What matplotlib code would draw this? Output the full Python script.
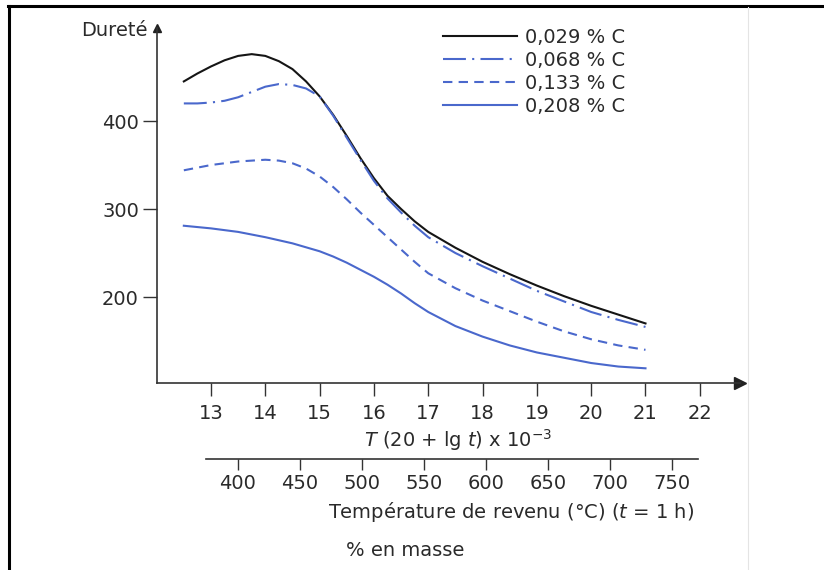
import matplotlib.pyplot as plt
from matplotlib.lines import Line2D

plt.rcParams['font.family'] = ['DejaVu Sans']

# Larson-Miller parameter T(20 + lg t) x 10^-3 and hardness for each carbon content
lm_029 = [12.5, 12.75, 13.0, 13.25, 13.5, 13.75, 14.0, 14.25, 14.5, 14.75, 15.0, 15.25, 15.5, 15.75,
          16.0, 16.25, 16.5, 16.75, 17.0, 17.5, 18.0, 18.5, 19.0, 19.5, 20.0, 20.5, 21.0]
hv_029 = [445, 454, 462, 469, 474, 476, 474, 468, 459, 445, 428, 407, 383, 358,
          335, 315, 300, 286, 274, 256, 240, 226, 213, 201, 190, 180, 170]

lm_068 = [12.5, 12.75, 13.0, 13.25, 13.5, 13.75, 14.0, 14.25, 14.5, 14.75, 15.0, 15.25, 15.5, 15.75,
          16.0, 16.25, 16.5, 16.75, 17.0, 17.5, 18.0, 18.5, 19.0, 19.5, 20.0, 20.5, 21.0]
hv_068 = [420, 420, 421, 423, 427, 433, 439, 442, 441, 437, 428, 406, 381, 356,
          332, 312, 296, 281, 268, 250, 235, 221, 207, 195, 183, 174, 166]

lm_133 = [12.5, 12.75, 13.0, 13.25, 13.5, 13.75, 14.0, 14.25, 14.5, 14.75, 15.0, 15.25, 15.5, 15.75,
          16.0, 16.25, 16.5, 16.75, 17.0, 17.5, 18.0, 18.5, 19.0, 19.5, 20.0, 20.5, 21.0]
hv_133 = [344, 347, 350, 352, 354, 355, 356, 355, 352, 346, 337, 325, 311, 296,
          282, 268, 254, 240, 227, 210, 196, 184, 172, 161, 152, 145, 140]

lm_208 = [12.5, 13.0, 13.5, 14.0, 14.5, 15.0, 15.25, 15.5, 15.75, 16.0, 16.25, 16.5, 16.75, 17.0,
          17.5, 18.0, 18.5, 19.0, 19.5, 20.0, 20.5, 21.0]
hv_208 = [281, 278, 274, 268, 261, 252, 246, 239, 231, 223, 214, 204, 193, 183,
          167, 155, 145, 137, 131, 125, 121, 119]

labels = ["0,029 % C", "0,068 % C", "0,133 % C", "0,208 % C"]

lm_ticks = list(range(13, 23))
hv_ticks = [200, 300, 400]
temp_ticks = [400, 450, 500, 550, 600, 650, 700, 750]

W, H = 824, 570
blue = "#4a68cc"
ink = "#2a2a2a"
fs = 14

fig = plt.figure(figsize=(W / 100, H / 100), dpi=100)

# main axes, placed in pixel terms
left, right, top, bottom = 157, 740, 28, 383
ax = fig.add_axes([left / W, (H - bottom) / H, (right - left) / W, (bottom - top) / H])
ax.set_xlim(12.006, 22.74)
ax.set_ylim(102.3, 505.7)

l1, = ax.plot(lm_029, hv_029, color="#151515", lw=1.5)
l2, = ax.plot(lm_068, hv_068, color=blue, lw=1.5, linestyle=(0, (11, 3, 1, 3)))
l3, = ax.plot(lm_133, hv_133, color=blue, lw=1.5, linestyle=(0, (4.5, 3)))
l4, = ax.plot(lm_208, hv_208, color=blue, lw=1.5)

for side in ["top", "right"]:
    ax.spines[side].set_visible(False)
for side in ["left", "bottom"]:
    ax.spines[side].set_color("#333333")
    ax.spines[side].set_linewidth(1.2)

# arrow heads on both axes
ax.plot(1, 0, ">", color="#222222", markersize=9, transform=ax.transAxes, clip_on=False)
ax.plot(0, 1, "^", color="#222222", markersize=6, transform=ax.transAxes, clip_on=False)

ax.set_xticks(lm_ticks)
ax.set_yticks(hv_ticks)
ax.tick_params(axis="x", length=9, width=1, pad=6, labelsize=fs, colors="#333333", labelcolor=ink)
ax.tick_params(axis="y", length=10, width=1, pad=3, labelsize=fs, colors="#333333", labelcolor=ink)

ax.legend([l1, l2, l3, l4], labels, loc="upper left",
          bbox_to_anchor=(443 / W, 1 - 28 / H), bbox_transform=fig.transFigure,
          frameon=False, fontsize=fs, handlelength=3.8, handletextpad=0.4,
          labelspacing=0.2, borderpad=0, borderaxespad=0, labelcolor=ink)

# secondary temperature scale
sec_left, sec_right, sec_y = 206, 698, 459
ax2 = fig.add_axes([sec_left / W, (H - sec_y) / H, (sec_right - sec_left) / W, 0.0001])
ax2.set_xlim(374.2, 771)
for side in ["top", "right", "left"]:
    ax2.spines[side].set_visible(False)
ax2.spines["bottom"].set_color("#333333")
ax2.spines["bottom"].set_linewidth(1.2)
ax2.set_yticks([])
ax2.set_xticks(temp_ticks)
ax2.tick_params(axis="x", length=8, width=1, pad=3, labelsize=fs, colors="#333333", labelcolor=ink)
ax2.patch.set_visible(False)

fig.text(148 / W, 1 - 30 / H, "Dureté", ha="right", va="center", fontsize=fs, color=ink)
fig.text(458 / W, 1 - 440 / H, r"$T$ (20 + lg $t$) x 10$^{-3}$", ha="center", va="center",
         fontsize=fs, color=ink)
fig.text(511 / W, 1 - 512 / H, r"Température de revenu (°C) ($t$ = 1 h)", ha="center", va="center",
         fontsize=fs, color=ink)
fig.text(405 / W, 1 - 550 / H, "% en masse", ha="center", va="center", fontsize=fs, color=ink)

# page frame
fig.add_artist(Line2D([8 / W, 1], [1 - 6 / H, 1 - 6 / H], color="black", lw=2.2, transform=fig.transFigure))
fig.add_artist(Line2D([9 / W, 9 / W], [0, 1 - 6 / H], color="black", lw=2.2, transform=fig.transFigure))
fig.add_artist(Line2D([748 / W, 748 / W], [0, 1 - 7 / H], color="#e4e4e4", lw=0.8, transform=fig.transFigure))

fig.savefig("out.png", dpi=100)
